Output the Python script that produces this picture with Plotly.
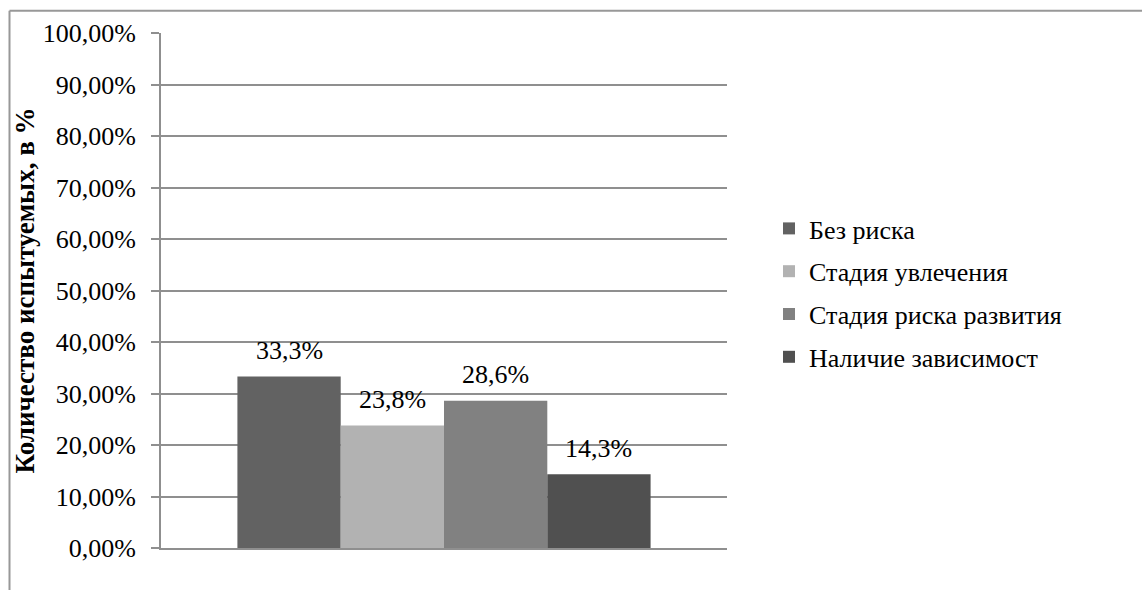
import plotly.graph_objects as go

# Survey results: share of respondents per risk stage
series_names = ["Без риска", "Стадия увлечения", "Стадия риска развития", "Наличие зависимост"]
series_values = [33.3, 23.8, 28.6, 14.3]
value_labels = ["33,3%", "23,8%", "28,6%", "14,3%"]
series_colors = ["#626262", "#b2b2b2", "#818181", "#505050"]
category = ["Группа"]
tick_values = [0, 10, 20, 30, 40, 50, 60, 70, 80, 90, 100]
tick_labels = ["0,00%", "10,00%", "20,00%", "30,00%", "40,00%", "50,00%",
               "60,00%", "70,00%", "80,00%", "90,00%", "100,00%"]
y_title = "Количество испытуемых, в %"

FONT = "'Liberation Serif', 'Times New Roman', 'DejaVu Serif', serif"
FS = 26
W, H = 1142, 590
L, R, T, B = 161, 415, 33, 42
BARGAP = 0.27

fig = go.Figure()
for i, (name, val, col) in enumerate(zip(series_names, series_values, series_colors)):
    fig.add_trace(go.Bar(
        x=category, y=[val], name=name, marker=dict(color=col, line=dict(width=0)),
        legendgroup=f"g{i}", hoverinfo="skip",
    ))

# value labels above each bar of the group
n = len(series_values)
w = (1 - BARGAP) / n
for i, (val, lab) in enumerate(zip(series_values, value_labels)):
    fig.add_annotation(
        x=-(1 - BARGAP) / 2 + w * (i + 0.5), y=val, xref="x", yref="y",
        text=lab, showarrow=False, yanchor="middle", yshift=26,
        font=dict(family=FONT, size=FS, color="#000000"),
    )

# outer frame around the chart
pw, ph = W - L - R, H - T - B
def px_x(p):
    return (p - L) / pw
def px_y(p):
    return (H - B - p) / ph
fig.add_shape(type="line", xref="paper", yref="paper",
              x0=px_x(9.5), x1=px_x(W + 5), y0=px_y(10.8), y1=px_y(10.8),
              line=dict(color="#989898", width=2))
fig.add_shape(type="line", xref="paper", yref="paper",
              x0=px_x(9.5), x1=px_x(9.5), y0=px_y(10.8), y1=px_y(H + 5),
              line=dict(color="#989898", width=2))

fig.update_layout(
    width=W, height=H,
    margin=dict(l=L, r=R, t=T, b=B, pad=0),
    paper_bgcolor="white", plot_bgcolor="white",
    barmode="group", bargap=BARGAP, bargroupgap=0,
    font=dict(family=FONT, size=FS, color="#000000"),
    showlegend=True,
    legend=dict(x=px_x(769), xanchor="left", y=px_y(293), yanchor="middle",
                font=dict(family=FONT, size=FS, color="#000000"),
                tracegroupgap=6, bgcolor="rgba(0,0,0,0)"),
    xaxis=dict(type="category", showticklabels=False, showgrid=False,
               showline=True, linecolor="#8f8f8f", linewidth=2, ticks="",
               zeroline=False, fixedrange=True),
    yaxis=dict(range=[0, 100], tickvals=tick_values, ticktext=tick_labels,
               showgrid=True, gridcolor="#8f8f8f", gridwidth=2,
               showline=True, linecolor="#8f8f8f", linewidth=2,
               ticks="outside", ticklen=8, tickwidth=2, tickcolor="#8f8f8f",
               ticklabelstandoff=10, zeroline=False,
               title=dict(text=f"<b>{y_title}</b>", standoff=0,
                          font=dict(family=FONT, size=27, color="#000000"))),
)

fig.write_html("out.html")
